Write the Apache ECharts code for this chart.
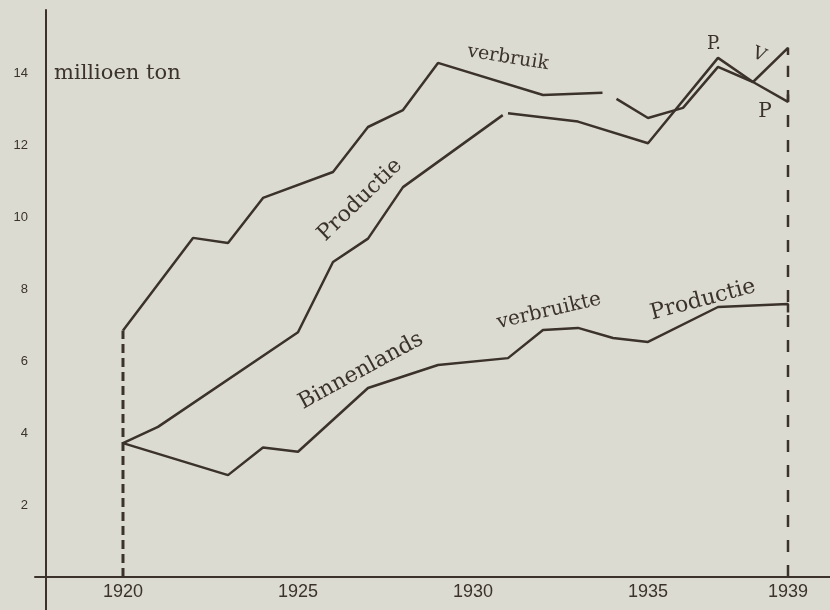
<!DOCTYPE html>
<html lang="nl">
<head>
    <meta charset="UTF-8">
    <title>Productie en verbruik 1920-1939</title>
    <script src="https://cdn.jsdelivr.net/npm/echarts@6/dist/echarts.min.js"></script>
    <style>
        html, body { margin: 0; padding: 0; background: #dcdbd2; }
        #chart { width: 830px; height: 610px; }
    </style>
</head>
<body>
<div id="chart"></div>
<script>
    // knikpunten van de lijnen: [jaar, miljoen ton], null = pen opgetild
    var verbruik = [[1920, 6.85], [1922, 9.42], [1923, 9.28], [1924, 10.53], [1926, 11.25], [1927, 12.5],
        [1928, 12.97], [1929, 14.28], [1932, 13.39], [1933.7, 13.45], null, [1934.1, 13.28], [1935, 12.75],
        [1936, 13.03], [1937, 14.17], [1938, 13.75], [1939, 14.7], [1939, 14.5]];
    var productie = [[1920, 3.72], [1921, 4.17], [1925, 6.8], [1926, 8.75], [1927, 9.4], [1928, 10.83],
        [1930.85, 12.83], null, [1931, 12.88], [1933, 12.65], [1935, 12.05], [1937, 14.42], [1938, 13.75],
        [1939, 13.2], [1939, 13.4]];
    var binnenlands = [[1920, 3.72], [1923, 2.83], [1924, 3.6], [1925, 3.48], [1927, 5.25], [1929, 5.89],
        [1931, 6.08], [1932, 6.86], [1933, 6.92], [1934, 6.64], [1935, 6.53], [1937, 7.5], [1939, 7.58],
        [1939, 7.35]];
    var grens1920 = [[1920, 0], [1920, 6.85]];
    var grens1939 = [[1939, 0], [1939, 14.2]];

    var jaarLabels = [1920, 1925, 1930, 1935, 1939];
    var tonLabels = [2, 4, 6, 8, 10, 12, 14];

    var inkt = '#3a322b';
    var letter = 'DejaVu Serif';

    var chart = echarts.init(document.getElementById('chart'));

    function lijn(data) {
        return {
            type: 'line',
            data: data,
            showSymbol: false,
            connectNulls: false,
            lineStyle: { color: inkt, width: 2.5 },
            silent: true
        };
    }

    function tekst(t, x, y, size, rot) {
        return {
            type: 'text',
            x: x, y: y,
            rotation: rot || 0,
            style: {
                text: t,
                fill: inkt,
                font: size + 'px "' + letter + '"',
                align: 'center',
                verticalAlign: 'middle'
            }
        };
    }

    chart.setOption({
        backgroundColor: '#dcdbd2',
        animation: false,
        grid: { left: 35, right: 0, top: 10, bottom: 33, outerBoundsMode: 'none', containLabel: false },
        xAxis: {
            type: 'value',
            min: 1917.486,
            max: 1940.2,
            axisLine: { lineStyle: { color: inkt, width: 2 } },
            axisTick: { show: false },
            splitLine: { show: false },
            axisLabel: {
                customValues: jaarLabels,
                formatter: function (v) { return String(v); },
                color: inkt,
                fontFamily: 'Liberation Sans',
                fontSize: 18,
                margin: 6
            }
        },
        yAxis: {
            type: 'value',
            min: 0,
            max: 15.75,
            offset: -11,
            axisLine: { show: true, lineStyle: { color: inkt, width: 2 } },
            axisTick: { show: false },
            splitLine: { show: false },
            axisLabel: {
                customValues: tonLabels,
                color: inkt,
                fontFamily: 'Liberation Sans',
                fontSize: 13,
                margin: 18
            }
        },
        series: [
            lijn(verbruik),
            lijn(productie),
            lijn(binnenlands),
            {
                type: 'line', data: grens1920, showSymbol: false, silent: true,
                lineStyle: { color: inkt, width: 3, type: [9, 5] }
            },
            {
                type: 'line', data: grens1939, showSymbol: false, silent: true,
                lineStyle: { color: inkt, width: 2.5, type: [12, 13] }
            }
        ],
        graphic: [
            // de y-as loopt in het origineel onder de x-as door
            {
                type: 'line', shape: { x1: 46, y1: 577, x2: 46, y2: 610 },
                style: { stroke: inkt, lineWidth: 2 }
            },
            {
                type: 'text', x: 54, y: 74,
                style: { text: 'millioen ton', fill: inkt, font: '21px "' + letter + '"', verticalAlign: 'middle' }
            },
            tekst('verbruik', 508, 58, 19, -0.16),
            tekst('Productie', 360, 200, 22, 0.77),
            tekst('Binnenlands', 361, 371, 22, 0.5),
            tekst('verbruikte', 549, 311, 20, 0.23),
            tekst('Productie', 703, 300, 22, 0.26),
            tekst('P.', 714, 44, 18, 0),
            tekst('V', 759, 55, 18, -0.4),
            tekst('P', 765, 112, 20, 0)
        ]
    });
</script>
</body>
</html>
